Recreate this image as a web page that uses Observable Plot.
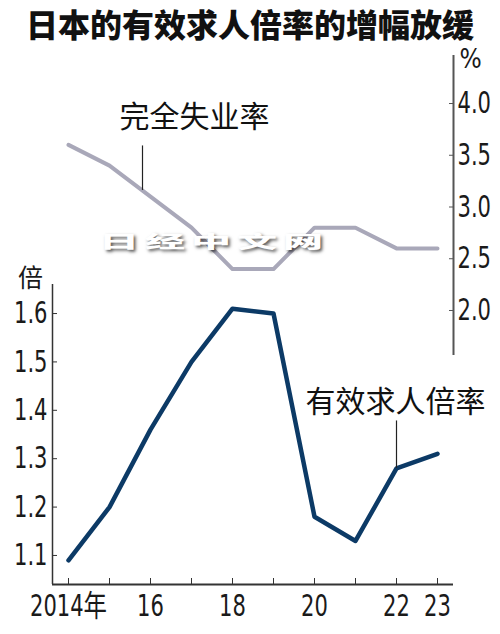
<!DOCTYPE html>
<html>
<head>
<meta charset="utf-8">
<script src="https://cdn.jsdelivr.net/npm/d3@7"></script>
<script src="https://cdn.jsdelivr.net/npm/@observablehq/plot@0.6"></script>
<style>
  body { margin: 0; background: #fff; }
  #title { width: 500px; height: 46px; line-height: 46px; text-align: center;
    font-family: "Noto Sans CJK SC", sans-serif; font-weight: 900; font-size: 32px; color: #111; }
  #wrap { position: relative; width: 500px; height: 588px; }
  #wrap svg { position: absolute; left: 0; top: 0; overflow: visible; }
  #wm { position: absolute; left: 99px; top: 186px; font-family: "Noto Sans CJK SC", sans-serif;
    font-weight: 900; font-size: 40px; line-height: 40px; letter-spacing: 6px; color: #fff; white-space: nowrap;
    text-shadow: 2px 5px 5px rgba(0,0,0,0.65); transform: scaleY(0.42); transform-origin: left top; z-index: 5; }
</style>
</head>
<body>
<div id="title">日本的有效求人倍率的增幅放缓</div>
<div id="wrap"><div id="wm">日经中文网</div></div>
<script>
const years = [2014, 2015, 2016, 2017, 2018, 2019, 2020, 2021, 2022, 2023];
const jobRatio = [1.09, 1.20, 1.36, 1.50, 1.61, 1.60, 1.18, 1.13, 1.28, 1.31];
const unemployment = [3.6, 3.4, 3.1, 2.8, 2.4, 2.4, 2.8, 2.8, 2.6, 2.6];
const xLabelYears = [2014, 2016, 2018, 2020, 2022, 2023];
const ratioTicks = [1.1, 1.2, 1.3, 1.4, 1.5, 1.6];
const rateTicks = [2.0, 2.5, 3.0, 3.5, 4.0];
const ratioLabel = "有效求人倍率";
const rateLabel = "完全失业率";
const ratioUnit = "倍";
const rateUnit = "%";

const ratioData = years.map((year, i) => ({year, value: jobRatio[i]}));
const rateData = years.map((year, i) => ({year, value: unemployment[i]}));

const numFont = `"Liberation Sans Narrow", "DejaVu Sans Condensed", "Noto Sans CJK SC", sans-serif`;
const cjkFont = `"Noto Sans CJK SC", sans-serif`;
const fmt = d3.format(".1f");
const W = 500, H = 588;

const ratioPoint = ratioData[8];
const ratePoint = rateData[2];

const plotA = Plot.plot({
  width: W, height: H,
  marginLeft: 52, marginRight: 47, marginTop: 238, marginBottom: 50,
  style: {fontFamily: numFont, color: "#1a1a1a", background: "transparent"},
  x: {domain: [2014, 2023], insetLeft: 16, insetRight: 16},
  y: {domain: [1.04, 1.66]},
  marks: [
    Plot.ruleY([1.04], {stroke: "#333", strokeWidth: 2}),
    Plot.ruleX([2014], {dx: -16, stroke: "#333", strokeWidth: 1.5}),
    Plot.axisY({ticks: ratioTicks, tickSize: -5, tickPadding: 10, tickFormat: fmt,
      fontSize: 30, stroke: "#333", label: null}),
    Plot.axisX({ticks: years, tickSize: -6, tickFormat: () => "", stroke: "#333", label: null}),
    Plot.axisX({ticks: xLabelYears, tickSize: 0, tickPadding: 10, fontSize: 30, label: null,
      tickFormat: d => d === 2014 ? "2014年" : String(d % 100).padStart(2, "0")}),
    Plot.text([ratioUnit], {frameAnchor: "top-left", textAnchor: "middle", lineAnchor: "middle",
      dx: -22, dy: -6, fontSize: 25, fontFamily: cjkFont, fill: "#1a1a1a"}),
    Plot.line(ratioData, {x: "year", y: "value", stroke: "#0c3a66", strokeWidth: 4.5}),
    Plot.ruleX([ratioPoint], {x: "year", y1: "value", y2: d => d.value + 0.098, stroke: "#222", strokeWidth: 1.2}),
    Plot.text([ratioPoint], {x: "year", y: "value", text: () => ratioLabel, dx: -1, dy: -66,
      fontSize: 30, fontFamily: cjkFont, fill: "#111"})
  ]
});

const plotB = Plot.plot({
  width: W, height: H,
  marginLeft: 52, marginRight: 47, marginTop: 9, marginBottom: 279,
  style: {fontFamily: numFont, color: "#1a1a1a", background: "transparent"},
  x: {domain: [2014, 2023], insetLeft: 16, insetRight: 16, axis: null},
  y: {domain: [1.565, 4.464]},
  marks: [
    Plot.ruleX([2023], {dx: 16, stroke: "#555", strokeWidth: 2}),
    Plot.axisY({anchor: "right", ticks: rateTicks, tickSize: -5, tickPadding: 9, tickFormat: fmt,
      fontSize: 30, stroke: "#555", label: null}),
    Plot.text([rateUnit], {frameAnchor: "top-right", textAnchor: "middle", lineAnchor: "middle",
      dx: 17, dy: 4, fontSize: 26, fill: "#1a1a1a"}),
    Plot.line(rateData, {x: "year", y: "value", stroke: "#a9a8b9", strokeWidth: 4}),
    Plot.ruleX([ratePoint], {x: "year", dx: -8, y1: d => d.value + 0.06, y2: d => d.value + 0.49,
      stroke: "#222", strokeWidth: 1.2}),
    Plot.text([ratePoint], {x: "year", y: "value", text: () => rateLabel, dx: 44, dy: -79,
      fontSize: 30, fontFamily: cjkFont, fill: "#111"})
  ]
});

const wrap = document.getElementById("wrap");
wrap.insertBefore(plotB, wrap.firstChild);
wrap.insertBefore(plotA, wrap.firstChild);

// narrow the tick-label glyphs to match the condensed face of the original
wrap.querySelectorAll('g[aria-label$="tick label"] text').forEach(t => {
  const w = t.getComputedTextLength();
  if (w > 0) {
    t.setAttribute("textLength", (w * 0.78).toFixed(1));
    t.setAttribute("lengthAdjust", "spacingAndGlyphs");
  }
});
</script>
</body>
</html>
